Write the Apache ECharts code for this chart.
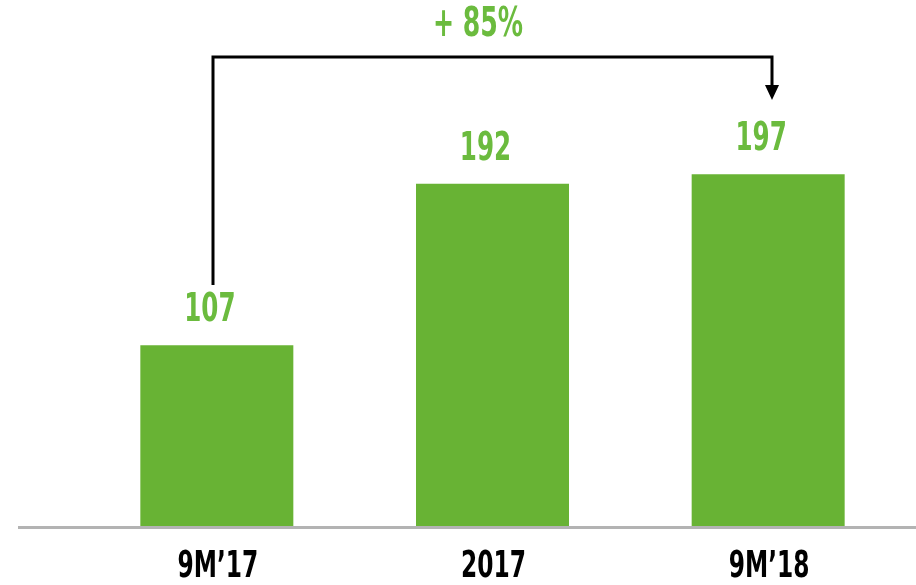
<!DOCTYPE html>
<html>
<head>
<meta charset="utf-8">
<script src="https://cdn.jsdelivr.net/npm/echarts@6/dist/echarts.min.js"></script>
<style>
    html, body {margin: 0; padding: 0; background: #fff;}
    #main {width: 916px; height: 585px;}
</style>
</head>
<body>
<div id="main"></div>
<script>
var categories = ['9M\u201917', '2017', '9M\u201918'];
var values = [107, 192, 197];
var growthText = '+ 85%';

(function () {
    var FONT = "'DejaVu Sans Condensed', 'DejaVu Sans', sans-serif";
    var GREEN = '#68b334';
    var LABEL_GREEN = '#6bbb3e';
    var SX = 0.7;      // squeeze text, narrow font look
    var chart = echarts.init(document.getElementById('main'));
    var option = {
        backgroundColor: '#ffffff',
        animation: false,
        grid: {
            left: 79,
            right: 10,
            top: 100,
            bottom: 59
        },
        xAxis: {
            type: 'category',
            data: categories,
            axisLine: {show: false},
            axisTick: {show: false},
            axisLabel: {show: false}
        },
        yAxis: {
            type: 'value',
            min: 12,
            max: 236,
            show: false,
            splitLine: {show: false}
        },
        series: [{
            type: 'bar',
            data: values,
            barWidth: 153,
            itemStyle: {color: GREEN}
        }]
    };
    chart.setOption(option);

    var graphics = [
        {   // base line
            type: 'line',
            shape: {x1: 18, y1: 527.5, x2: 916, y2: 527.5},
            style: {stroke: '#b3b3b3', lineWidth: 3}
        }
    ];

    // value labels and category labels (narrow text)
    values.forEach(function (v, i) {
        var p = chart.convertToPixel({seriesIndex: 0}, [i, v]);
        graphics.push({
            type: 'text',
            x: p[0] - 7,
            y: p[1] - 34,
            scaleX: SX,
            style: {
                text: String(v),
                fill: LABEL_GREEN,
                font: 'bold 39px ' + FONT,
                align: 'center',
                verticalAlign: 'middle'
            }
        });
        graphics.push({
            type: 'text',
            x: p[0] + 1,
            y: 567,
            scaleX: SX,
            style: {
                text: categories[i],
                fill: '#000',
                font: 'bold 37px ' + FONT,
                align: 'center',
                verticalAlign: 'middle'
            }
        });
    });

    // bracket + arrow from first bar to last bar
    var p0 = chart.convertToPixel({seriesIndex: 0}, [0, values[0]]);
    var p2 = chart.convertToPixel({seriesIndex: 0}, [2, values[2]]);
    var x0 = Math.round(p0[0]) - 4, x2 = Math.round(p2[0]) + 4;
    var topY = 57;
    graphics.push(
        {
            type: 'polyline',
            shape: {points: [[x0, 285], [x0, topY], [x2, topY], [x2, 88]]},
            style: {stroke: '#000', lineWidth: 3, fill: null}
        },
        {
            type: 'polygon',
            shape: {points: [[x2 - 7, 85], [x2 + 7, 85], [x2, 100]]},
            style: {fill: '#000'}
        },
        {
            type: 'text',
            x: 478,
            y: 26,
            scaleX: SX,
            style: {
                text: growthText,
                fill: LABEL_GREEN,
                font: 'bold 40px ' + FONT,
                align: 'center',
                verticalAlign: 'middle'
            }
        }
    );
    chart.setOption({graphic: graphics});

    window.addEventListener('resize', function () {
        chart.resize();
    });
}());
</script>
</body>
</html>
